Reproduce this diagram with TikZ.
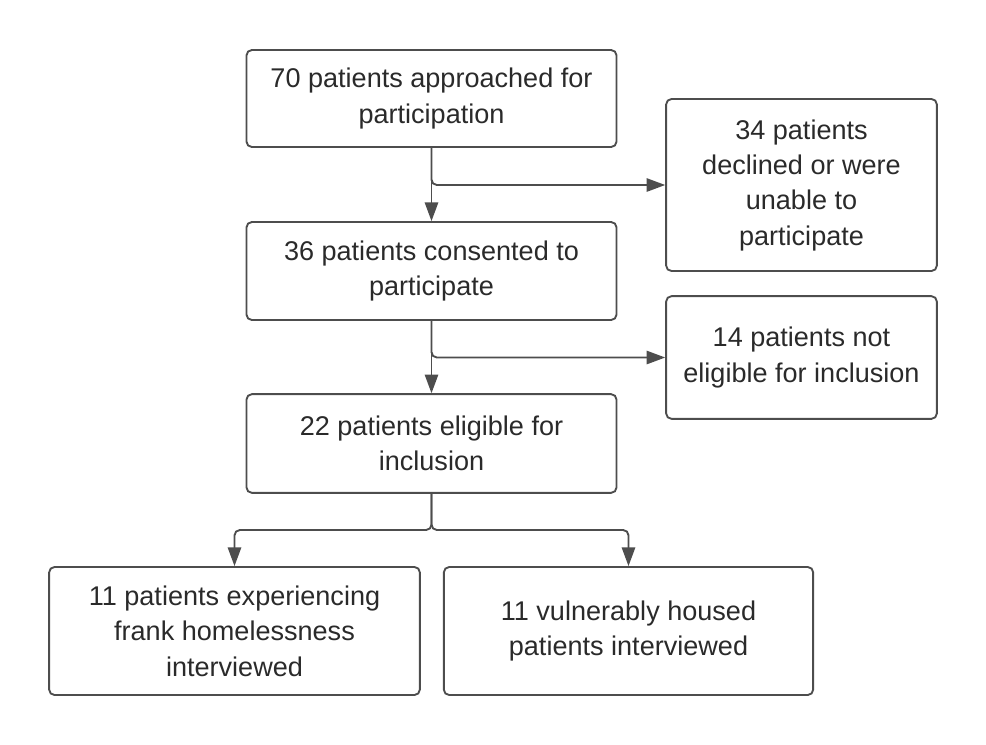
\documentclass[tikz,border=0pt]{standalone}
\usepackage{fontspec}
\setmainfont{Liberation Sans}
\usetikzlibrary{arrows.meta}
\definecolor{boxline}{HTML}{4D4D4D}
\definecolor{boxtext}{HTML}{2A2A2A}

\begin{document}
\begin{tikzpicture}[x=0.75pt,y=-0.75pt,
  box/.style={draw=boxline, line width=1.4pt, rounded corners=4pt, align=center,
    text=boxtext, font=\fontsize{20.3}{26.5}\selectfont, inner sep=0pt},
  arr/.style={draw=boxline, line width=1.4pt, rounded corners=4pt,
    -{Triangle[length=14pt,width=10pt]}}]
\useasboundingbox (0,0) rectangle (986,744);
\node [box, minimum width=277.5pt, minimum height=72.75pt] (approached) at (431.5,98.5) {70 patients approached for\\participation};
\node [box, minimum width=203pt, minimum height=129pt] (declined) at (801.5,185) {34 patients\\declined or were\\unable to\\participate};
\node [box, minimum width=277.5pt, minimum height=73.5pt] (consented) at (431.5,271) {36 patients consented to\\participate};
\node [box, minimum width=203pt, minimum height=92pt] (noteligible) at (801.5,357.5) {14 patients not\\eligible for inclusion};
\node [box, minimum width=277.5pt, minimum height=74pt] (eligible) at (431.5,443.5) {22 patients eligible for\\inclusion};
\node [box, minimum width=278pt, minimum height=96pt] (homeless) at (234.5,631) {11 patients experiencing\\frank homelessness\\interviewed};
\node [box, minimum width=277pt, minimum height=96pt] (housed) at (628.5,631) {11 vulnerably housed\\patients interviewed};
\coordinate (split) at (431.5,530);
\draw [arr] (approached) -- (consented);
\draw [arr] (approached.south) |- (declined.west);
\draw [arr] (consented) -- (eligible);
\draw [arr] (consented.south) |- (noteligible.west);
\draw [arr] (eligible.south) -- (split) -| (homeless.north);
\draw [arr] (eligible.south) -- (split) -| (housed.north);
\end{tikzpicture}
\end{document}
